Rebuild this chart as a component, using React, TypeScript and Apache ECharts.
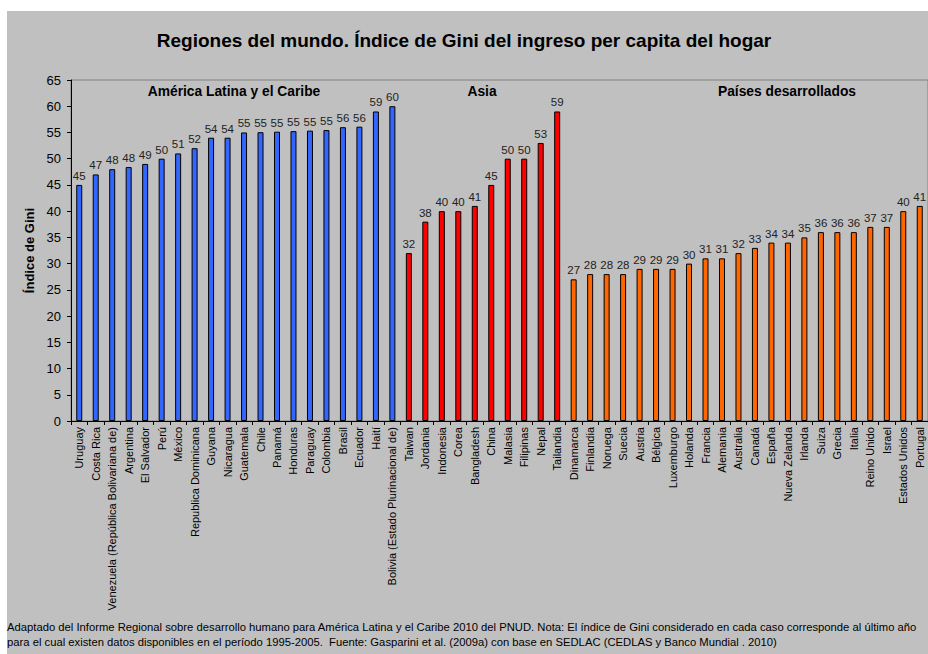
import React, { useEffect, useRef } from "react";
import * as echarts from "echarts";

const latamCountries = [
  "Uruguay", "Costa Rica", "Venezuela (República Bolivariana de)", "Argentina", "El Salvador",
  "Perú", "México", "Republica Dominicana", "Guyana", "Nicaragua", "Guatemala", "Chile",
  "Panamá", "Honduras", "Paraguay", "Colombia", "Brasil", "Ecuador", "Haití",
  "Bolivia (Estado Plurinacional de)",
];
const latamValues = [45, 47, 48, 48.4, 49, 50, 51, 52, 54, 54, 55, 55.05, 55.15, 55.25, 55.35, 55.45, 56, 56.1, 59, 60];

const asiaCountries = [
  "Taiwan", "Jordania", "Indonesia", "Corea", "Bangladesh", "China", "Malasia", "Filipinas", "Nepal", "Tailandia",
];
const asiaValues = [32, 38, 40, 40, 41, 45, 50, 50, 53, 59];

const devCountries = [
  "Dinamarca", "Finlandia", "Noruega", "Suecia", "Austria", "Bélgica", "Luxemburgo", "Holanda",
  "Francia", "Alemania", "Australia", "Canadá", "España", "Nueva Zelanda", "Irlanda", "Suiza",
  "Grecia", "Italia", "Reino Unido", "Israel", "Estados Unidos", "Portugal",
];
const devValues = [27, 28, 28, 28, 29, 29, 29, 30, 31, 31, 32, 33, 34, 34, 35, 36, 36, 36, 37, 37, 40, 41];

const regionColors = ["#3366FF", "#FF0000", "#FF6600"];
const regionNames = ["América Latina y el Caribe", "Asia", "Países desarrollados"];

const titleText = "Regiones del mundo. Índice de Gini del ingreso per capita del hogar";
const yAxisName = "Índice de Gini";
const footnoteLines = [
  "Adaptado del Informe Regional sobre desarrollo humano para América Latina y el Caribe 2010 del PNUD. Nota: El índice de Gini considerado en cada caso corresponde al último año",
  "para el cual existen datos disponibles en el período 1995-2005.  Fuente: Gasparini et al. (2009a) con base en SEDLAC (CEDLAS y Banco Mundial . 2010)",
];

const FONT = "'Liberation Sans', Arial, sans-serif";

export default function App() {
  const ref = useRef<HTMLDivElement>(null);

  useEffect(() => {
    if (!ref.current) return;
    const chart = echarts.init(ref.current, undefined, { renderer: "svg" });

    const groups = [
      { names: latamCountries, values: latamValues },
      { names: asiaCountries, values: asiaValues },
      { names: devCountries, values: devValues },
    ];
    const categories: string[] = [];
    const data: any[] = [];
    groups.forEach((g, gi) => {
      g.names.forEach((n, i) => {
        categories.push(n);
        data.push({ value: g.values[i], itemStyle: { color: regionColors[gi] } });
      });
    });

    const regionX = [234, 482, 787];

    chart.setOption({
      animation: false,
      backgroundColor: "transparent",
      title: [
        {
          text: titleText,
          left: "center",
          top: 26,
          textStyle: { fontFamily: FONT, fontSize: 19, fontWeight: "bold", color: "#000" },
        },
      ],
      graphic: [
        {
          type: "rect",
          z: -10,
          silent: true,
          shape: { x: 7, y: 11, width: 921, height: 643 },
          style: { fill: "#C0C0C0" },
        },
        ...regionNames.map((name, i) => ({
          type: "text",
          x: regionX[i],
          y: 91,
          style: {
            text: name,
            font: `bold 13.8px ${FONT}`,
            fill: "#000",
            align: "center",
            verticalAlign: "middle",
          },
        })),
        ...footnoteLines.map((t, i) => ({
          type: "text",
          x: 7,
          y: 627 + i * 15,
          style: {
            text: t,
            font: `11.25px ${FONT}`,
            fill: "#000",
            align: "left",
            verticalAlign: "middle",
          },
        })),
      ],
      grid: {
        left: 71,
        top: 80,
        width: 861,
        height: 341,
        show: true,
        borderColor: "#808080",
        borderWidth: 1,
        backgroundColor: "transparent",
      },
      xAxis: {
        type: "category",
        data: categories,
        axisLine: { lineStyle: { color: "#000", width: 1 } },
        axisTick: { show: true, length: 4, lineStyle: { color: "#000" } },
        axisLabel: {
          interval: 0,
          rotate: 90,
          margin: 6,
          fontFamily: FONT,
          fontSize: 11,
          color: "#000",
        },
      },
      yAxis: {
        type: "value",
        min: 0,
        max: 65,
        interval: 5,
        name: yAxisName,
        nameLocation: "middle",
        nameGap: 34,
        nameTextStyle: { fontFamily: FONT, fontSize: 13, fontWeight: "bold", color: "#000" },
        axisLine: { show: true, lineStyle: { color: "#000", width: 1 } },
        axisTick: { show: true, length: 4, lineStyle: { color: "#000" } },
        splitLine: { show: false },
        axisLabel: { margin: 10, fontFamily: FONT, fontSize: 13, color: "#000" },
      },
      series: [
        {
          type: "bar",
          data,
          barWidth: 6,
          itemStyle: { borderColor: "#000", borderWidth: 1 },
          label: {
            show: true,
            position: "top",
            distance: 3,
            fontFamily: FONT,
            fontSize: 11.5,
            color: "#222",
            formatter: (p: any) => String(Math.round(p.value)),
          },
        },
      ],
    });

    return () => chart.dispose();
  }, []);

  return (
    <div
      ref={ref}
      style={{ position: "fixed", left: 0, top: 0, width: 928, height: 654, background: "#fff" }}
    />
  );
}
